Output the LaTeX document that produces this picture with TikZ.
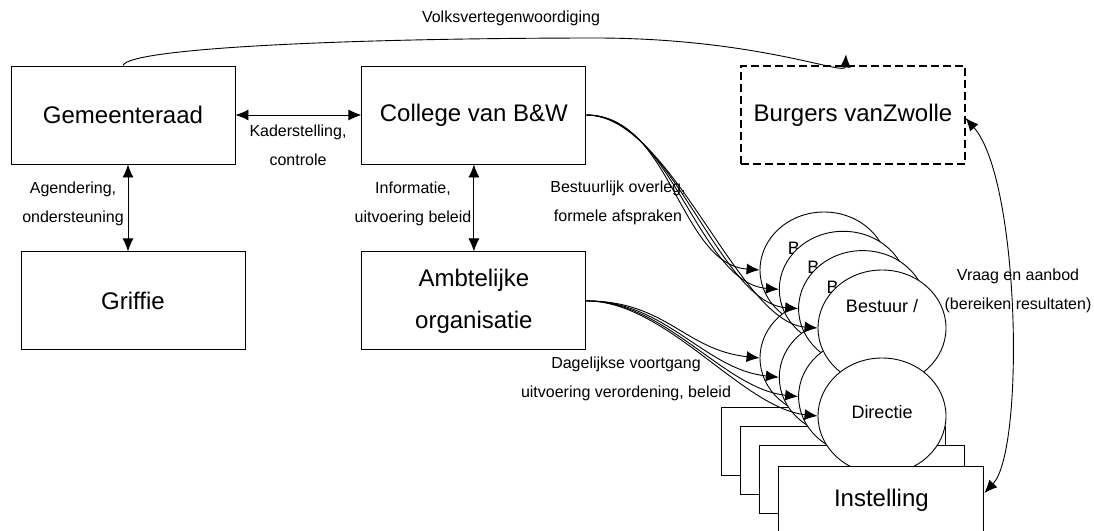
\documentclass[tikz,border=0pt]{standalone}
\usepackage{fontspec}
\setmainfont{Liberation Sans}
\usetikzlibrary{shapes.geometric,arrows.meta,positioning}

\newcommand{\boxfont}{\fontsize{24}{42}\selectfont}
\newcommand{\orgfont}{\fontsize{18}{22}\selectfont}
\newcommand{\lblfont}{\fontsize{16}{29}\selectfont}

\begin{document}
\begin{tikzpicture}[x=1pt, y=-1pt, line width=0.9pt, >={Latex[length=13pt,width=11pt]}]

    % Define block styles
    \tikzstyle{box} = [draw, rectangle, minimum width=224pt, minimum height=98pt, align=center, font=\boxfont]
    \tikzstyle{burger} = [box, dash pattern=on 8pt off 4pt, line width=1.2pt]
    \tikzstyle{org} = [draw, ellipse, fill=white, minimum width=128pt, minimum height=116pt, inner sep=0pt]
    \tikzstyle{inst} = [draw, rectangle, fill=white, minimum width=205pt, minimum height=68pt, font=\boxfont]
    \tikzstyle{lbl} = [align=center, font=\lblfont, inner sep=0pt]

    \useasboundingbox (0,0) rectangle (1094,530);

    % Top row
    \node[box] (gem) at (123,115) {Gemeenteraad};
    \node[box, right=126pt of gem] (coll) {College van B\&W};
    \node[burger, right=154pt of coll] (burg) {Burgers vanZwolle};

    % Bottom row
    \node[box, below=87pt of gem, xshift=10pt] (griffie) {Griffie};
    \node[box, below=87pt of coll] (ambt) {Ambtelijke\\organisatie};

    \draw[<->] (gem) -- (coll);
    \draw[<->] ([xshift=5pt]gem.south) -- ([xshift=-5pt]griffie.north);
    \draw[<->] (coll) -- (ambt);

    \node[lbl] (kader) at (298,145) {Kaderstelling,\\controle};
    \node[lbl] (agenda) at (73,203.5) {Agendering,\\ondersteuning};
    \node[lbl] (info) at (413,203.5) {Informatie,\\uitvoering beleid};

    % Volksvertegenwoordiging
    \draw[->] (gem.north) .. controls (128,48) and (350,38) .. (600,38)
        .. controls (760,39) and (845,76) .. ([xshift=-7pt,yshift=11pt]burg.north);
    \node[lbl] (volk) at (511,18) {Volksvertegenwoordiging};

    % Instellingen (back to front)
    \node[inst] (inst1) at (823.5,441) {};
    \node[inst] (inst2) at (842.8,460.3) {};
    \node[inst] (inst3) at (862.1,479.6) {};

    % Bestuur / Directie
    \node[org, label={[font=\orgfont, yshift=22pt]center:Bestuur /}] (bes1) at (824,270) {};
    \node[org, label={[font=\orgfont, yshift=4pt]center:Directie}] (dir1) at (824,358) {};
    \node[org, label={[font=\orgfont, yshift=22pt]center:Bestuur /}] (bes2) at (843.3,289.3) {};
    \node[org, label={[font=\orgfont, yshift=4pt]center:Directie}] (dir2) at (843.3,377.3) {};
    \node[org, label={[font=\orgfont, yshift=22pt]center:Bestuur /}] (bes3) at (862.6,308.6) {};
    \node[org, label={[font=\orgfont, yshift=4pt]center:Directie}] (dir3) at (862.6,396.6) {};
    \node[org, label={[font=\orgfont, yshift=22pt]center:Bestuur /}] (bes4) at (882,328) {};
    \node[org, label={[font=\orgfont, yshift=4pt]center:Directie}] (dir4) at (882,416) {};

    \node[inst] (inst4) at (881.4,500) {Instelling};

    % Bestuurlijk overleg
    \draw[->] (coll.east) .. controls +(85,0) and +(-80,-6) .. (bes1.west);
    \draw[->] (coll.east) .. controls +(85,0) and +(-80,-6) .. (bes2.west);
    \draw[->] (coll.east) .. controls +(85,0) and +(-80,-6) .. (bes3.west);
    \draw[->] (coll.east) .. controls +(85,0) and +(-80,-6) .. (bes4.west);
    \node[lbl] (overleg) at (618,203) {Bestuurlijk overleg,\\formele afspraken};

    % Dagelijkse voortgang
    \draw[->] (ambt.east) .. controls +(80,0) and +(-75,-8) .. (dir1.west);
    \draw[->] (ambt.east) .. controls +(80,0) and +(-75,-8) .. (dir2.west);
    \draw[->] (ambt.east) .. controls +(80,0) and +(-75,-8) .. (dir3.west);
    \draw[->] (ambt.east) .. controls +(80,0) and +(-75,-8) .. (dir4.west);
    \node[lbl] (voortgang) at (626,379) {Dagelijkse voortgang\\uitvoering verordening, beleid};

    % Vraag en aanbod
    \draw[<->] ([yshift=-3pt]burg.east) .. controls (1020,180) and (1025,450) .. ([yshift=7pt]inst4.east);
    \node[lbl] (vraag) at (1018,290.5) {Vraag en aanbod\\(bereiken resultaten)};

\end{tikzpicture}
\end{document}
